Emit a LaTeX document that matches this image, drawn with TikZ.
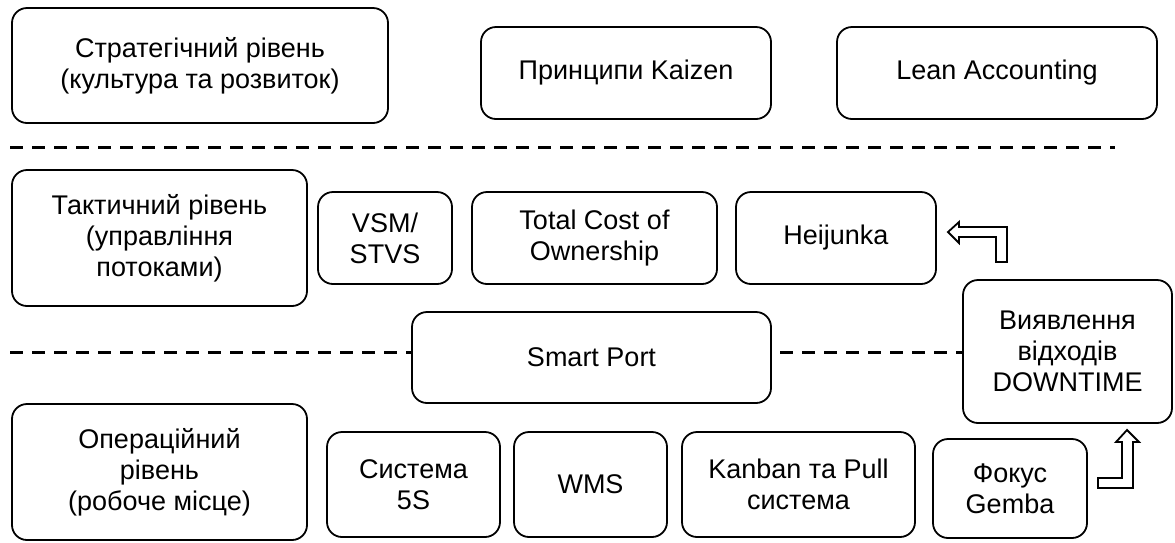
\documentclass[tikz,border=0pt]{standalone}
\usepackage{fontspec}
\setmainfont{Liberation Sans}
\usetikzlibrary{backgrounds}
\tikzset{
  box/.style={draw=black, line width=1.8pt, fill=white, rounded corners=15pt,
    align=center, inner sep=0pt, font=\fontsize{27}{31}\selectfont},
  sep/.style={draw=black, line width=3pt, dash pattern=on 13pt off 9pt},
  bentarrow/.style={draw=black, fill=white, line width=1.8pt, line join=miter}
}
\begin{document}
\begin{tikzpicture}[x=1pt,y=-1pt]
\useasboundingbox (0,0) rectangle (1175,542);
% row 1
\node[box, minimum width=376pt, minimum height=115pt] (strat) at (200,65.5) {Стратегічний рівень\\(культура та розвиток)};
\node[box, minimum width=290pt, minimum height=92pt] (kaizen) at (626,73) {Принципи Kaizen};
\node[box, minimum width=320pt, minimum height=92pt] (lean) at (997,73) {Lean Accounting};
% row 2
\node[box, minimum width=295pt, minimum height=136pt] (tact) at (159.5,238) {Тактичний рівень\\(управління\\потоками)};
\node[box, minimum width=134pt, minimum height=92pt] (vsm) at (385,238) {VSM/\\STVS};
\node[box, minimum width=245pt, minimum height=92pt] (tco) at (594.5,238) {Total Cost of\\Ownership};
\node[box, minimum width=200pt, minimum height=92pt] (heij) at (836,238) {Heijunka};
\node[box, minimum width=359pt, minimum height=91pt] (smart) at (591.5,357.5) {Smart Port};
\node[box, minimum width=209pt, minimum height=143pt] (down) at (1067.5,351.5) {Виявлення\\відходів\\DOWNTIME};
% row 3
\node[box, minimum width=295pt, minimum height=136pt] (oper) at (159.5,472) {Операційний\\рівень\\(робоче місце)};
\node[box, minimum width=173pt, minimum height=105pt] (s5) at (413.5,484.5) {Система\\5S};
\node[box, minimum width=153pt, minimum height=105pt] (wms) at (590.5,484.5) {WMS};
\node[box, minimum width=233pt, minimum height=105pt] (kanban) at (798.5,484.5) {Kanban та Pull\\система};
\node[box, minimum width=154pt, minimum height=99pt] (gemba) at (1010,488.5) {Фокус\\Gemba};
% separators
\begin{scope}[on background layer]
\coordinate (sepAstart) at (10,147);
\coordinate (sepAend) at (1115,147);
\coordinate (sepBstart) at (10,352);
\draw[sep] (sepAstart) -- (sepAend);
\draw[sep] (sepBstart) -- (sepBstart -| down.west);
\end{scope}
% bent arrows
\draw[bentarrow] (948,232) -- (959,222) -- (959,227) -- (1007,227) -- (1007,262)
  -- (996,262) -- (996,237) -- (959,237) -- (959,243) -- cycle;
\draw[bentarrow] (1127,430) -- (1139,442) -- (1133,442) -- (1133,488) -- (1098,488)
  -- (1098,478) -- (1122,478) -- (1122,442) -- (1116,442) -- cycle;
\end{tikzpicture}
\end{document}
